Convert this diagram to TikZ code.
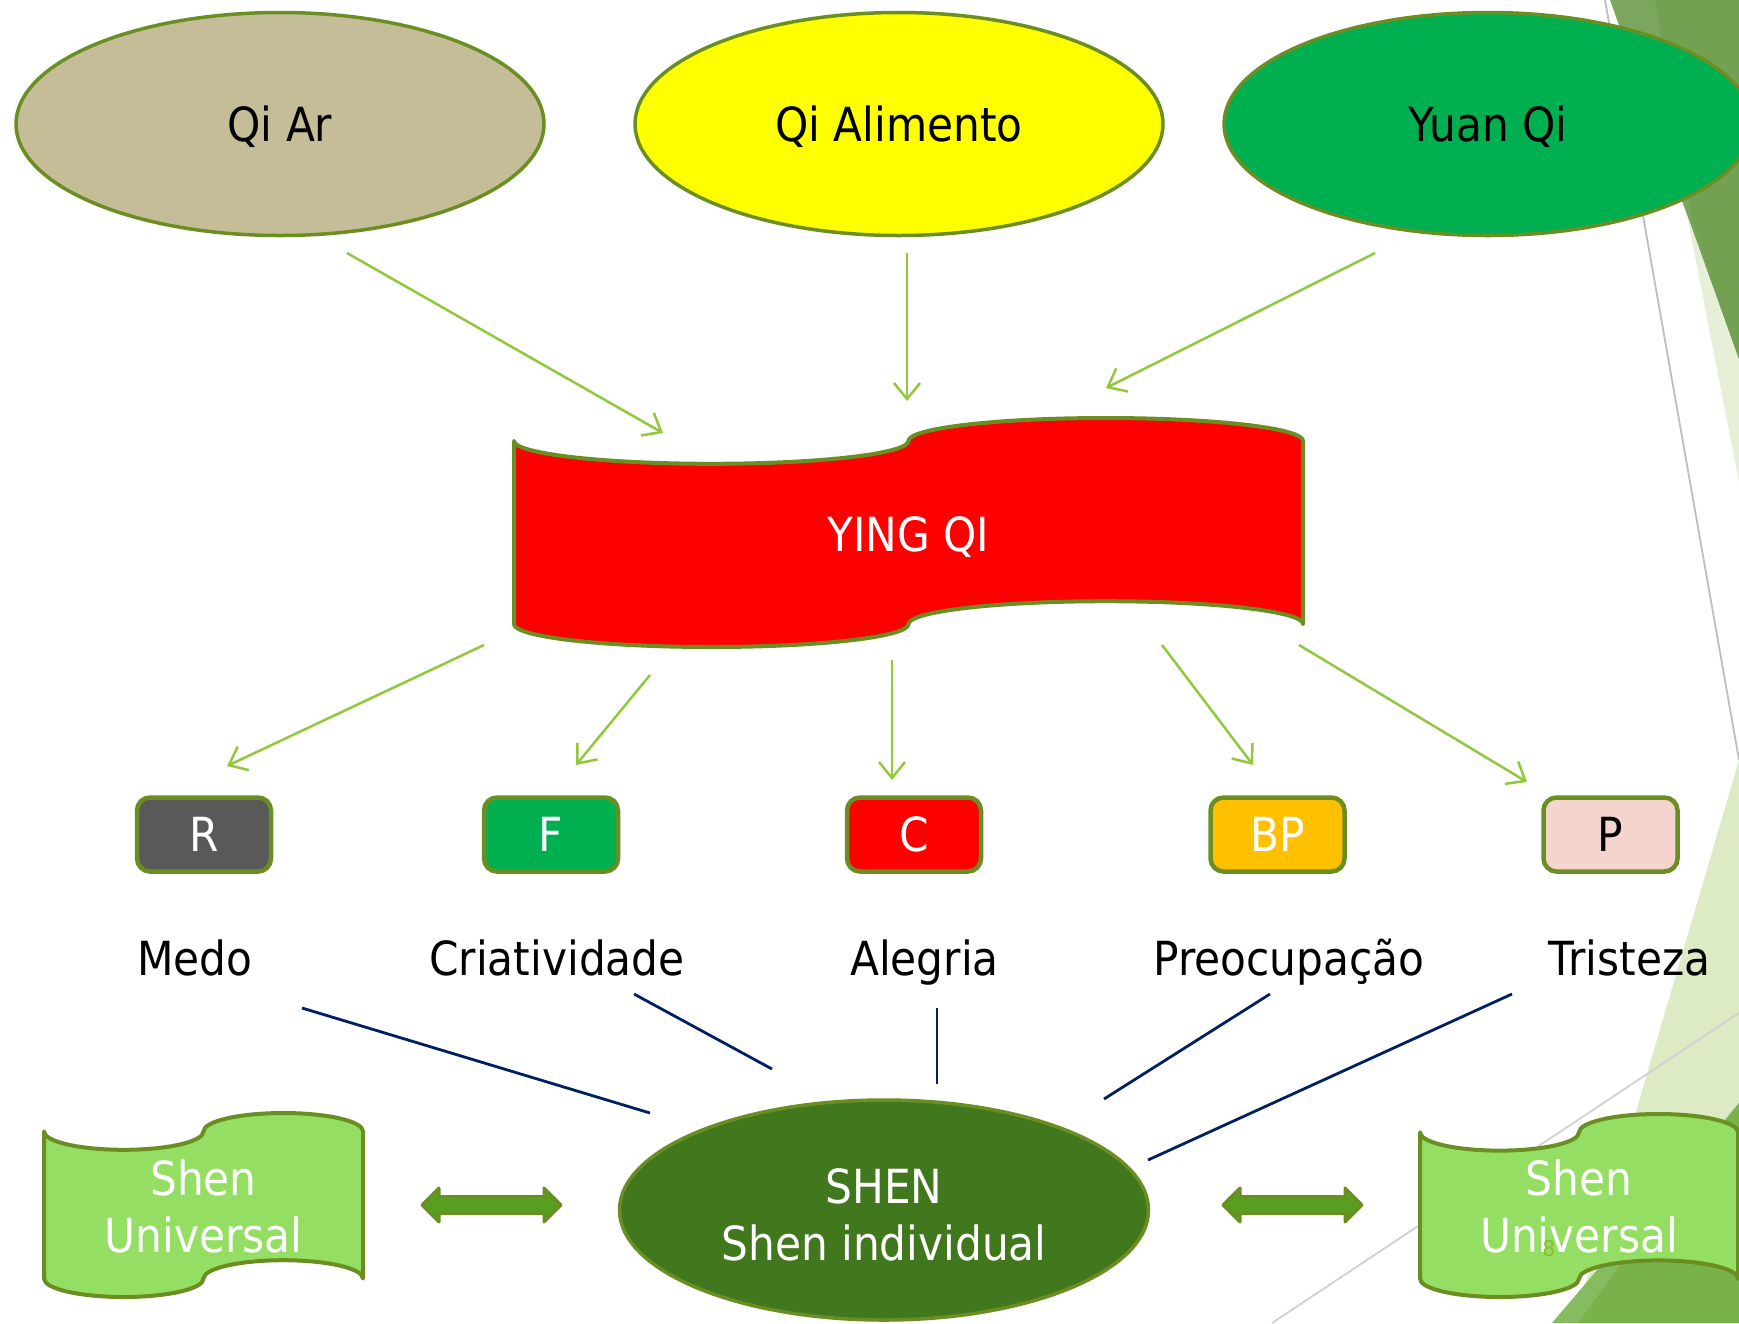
\documentclass[tikz,border=0pt]{standalone}
\usepackage{fontspec}
\setmainfont{DejaVu Sans}[FakeStretch=0.9]
\usetikzlibrary{arrows.meta,shapes.geometric}

% palette
\definecolor{rimgreen}{RGB}{107,142,35}
\definecolor{feedgreen}{RGB}{146,200,60}
\definecolor{navyline}{RGB}{0,32,96}
\definecolor{qiartan}{RGB}{196,189,151}
\definecolor{qiyellow}{RGB}{255,255,0}
\definecolor{yuangreen}{RGB}{0,176,80}
\definecolor{yingred}{RGB}{255,0,0}
\definecolor{shendark}{RGB}{65,120,30}
\definecolor{shenlight}{RGB}{148,222,100}
\definecolor{twowaygreen}{RGB}{88,158,32}
\definecolor{rgray}{RGB}{89,89,89}
\definecolor{fgreen}{RGB}{0,176,80}
\definecolor{cred}{RGB}{255,0,0}
\definecolor{bporange}{RGB}{255,192,0}
\definecolor{ppink}{RGB}{246,212,206}
\definecolor{facetA}{RGB}{124,165,94}
\definecolor{facetB}{RGB}{116,160,82}
\definecolor{facetPale}{RGB}{229,240,214}
\definecolor{facetPaleB}{RGB}{221,235,196}
\definecolor{facetMidA}{RGB}{134,188,96}
\definecolor{facetMidB}{RGB}{121,178,74}
\definecolor{facetGray}{RGB}{190,190,190}
\definecolor{pagenum}{RGB}{140,190,40}

% punched-tape outline: style, left x, top y, width, height
% (top and bottom edges carry the same wave: dip on the left, hump on the right)
\newcommand\tapeshape[5]{%
  \pgfmathsetmacro\tpA{#4/4}%
  \pgfmathsetmacro\tpB{#5/10}%
  \pgfmathsetmacro\tpKA{0.5523*\tpA}%
  \pgfmathsetmacro\tpKB{0.5523*\tpB}%
  \path[#1] (#2,#3+\tpB)
   .. controls (#2,#3+\tpB+\tpKB) and (#2+\tpA-\tpKA,#3+2*\tpB) .. (#2+\tpA,#3+2*\tpB)
   .. controls (#2+\tpA+\tpKA,#3+2*\tpB) and (#2+2*\tpA,#3+\tpB+\tpKB) .. (#2+2*\tpA,#3+\tpB)
   .. controls (#2+2*\tpA,#3+\tpB-\tpKB) and (#2+3*\tpA-\tpKA,#3) .. (#2+3*\tpA,#3)
   .. controls (#2+3*\tpA+\tpKA,#3) and (#2+4*\tpA,#3+\tpB-\tpKB) .. (#2+4*\tpA,#3+\tpB)
   -- (#2+4*\tpA,#3+9*\tpB)
   .. controls (#2+4*\tpA,#3+9*\tpB-\tpKB) and (#2+3*\tpA+\tpKA,#3+8*\tpB) .. (#2+3*\tpA,#3+8*\tpB)
   .. controls (#2+3*\tpA-\tpKA,#3+8*\tpB) and (#2+2*\tpA,#3+9*\tpB-\tpKB) .. (#2+2*\tpA,#3+9*\tpB)
   .. controls (#2+2*\tpA,#3+9*\tpB+\tpKB) and (#2+\tpA+\tpKA,#3+10*\tpB) .. (#2+\tpA,#3+10*\tpB)
   .. controls (#2+\tpA-\tpKA,#3+10*\tpB) and (#2,#3+9*\tpB+\tpKB) .. (#2,#3+9*\tpB)
   -- cycle;}

% block double arrow: left tip x, right tip x, centre y
\newcommand\twowayarrow[3]{%
  \path[twoway] (#1,#3) -- (#1+17,#3-17) -- (#1+17,#3-8.5) -- (#2-17,#3-8.5)
    -- (#2-17,#3-17) -- (#2,#3) -- (#2-17,#3+17) -- (#2-17,#3+8.5)
    -- (#1+17,#3+8.5) -- (#1+17,#3+17) -- cycle;}

\tikzset{
  big/.style={font=\fontsize{47}{57}\selectfont},
  oval/.style={ellipse, draw=rimgreen, line width=3.5pt, minimum width=528pt,
    minimum height=223pt, inner sep=0pt, big, text height=34pt, text depth=0pt},
  organ/.style={rectangle, draw=rimgreen, line width=4.5pt, rounded corners=13pt,
    minimum width=134pt, minimum height=74pt, inner sep=0pt, big,
    text height=34pt, text depth=0pt, text=white},
  caption/.style={big, inner sep=0pt, anchor=base},
  feed/.style={draw=feedgreen, line width=2.5pt,
    -{Straight Barb[length=16pt,width=26pt,line width=2.5pt]}},
  link/.style={draw=navyline, line width=2.8pt},
  tape/.style={draw=rimgreen, line width=4pt, line join=round},
  twoway/.style={fill=twowaygreen, draw=rimgreen, line width=3pt, line join=round},
  facetline/.style={draw=facetGray, line width=1.8pt}
}

\begin{document}
\begin{tikzpicture}[x=1pt,y=-1pt]
\useasboundingbox (0,0) rectangle (1739,1323);
\fill[white] (0,0) rectangle (1739,1323);
\begin{scope}
\clip (0,0) rectangle (1739,1323);

% theme facets on the right edge
\fill[facetA] (1610,0) -- (1739,0) -- (1739,360) -- cycle;
\fill[facetB] (1655,0) -- (1739,0) -- (1739,360) -- (1692,222) -- cycle;
\fill[facetPale] (1687,215) -- (1739,360) -- (1739,482) -- cycle;
\fill[facetPaleB] (1739,760) -- (1574,1323) -- (1739,1323) -- cycle;
\fill[facetMidA] (1739,1103) -- (1552,1323) -- (1739,1323) -- cycle;
\fill[facetMidB] (1739,1103) -- (1578,1323) -- (1739,1323) -- cycle;
\draw[facetline] (1605,0) -- (1739,760);
\draw[facetline, draw=facetGray!70] (1739,1013) -- (1272,1323);

% sources of qi
\node[oval, fill=qiartan] (qiar) at (280,124) {Qi Ar};
\node[oval, fill=qiyellow] (qialim) at (899,124) {Qi Alimento};
\node[oval, fill=yuangreen] (yuanqi) at (1488,124) {Yuan Qi};

% Ying Qi banner
\tapeshape{tape, fill=yingred}{514}{418}{789}{229}
\node[caption, text=white] (yingqi) at (908.5,551) {YING QI};

% organs
\node[organ, fill=rgray] (orgR) at (204,834.5) {R};
\node[organ, fill=fgreen] (orgF) at (551,834.5) {F};
\node[organ, fill=cred] (orgC) at (914,834.5) {C};
\node[organ, fill=bporange] (orgBP) at (1277.5,834.5) {BP};
\node[organ, fill=ppink, text=black] (orgP) at (1610.5,834.5) {P};

% emotions
\node[caption] (medo) at (195,975) {Medo};
\node[caption] (criat) at (557,975) {Criatividade};
\node[caption] (alegria) at (924.5,975) {Alegria};
\node[caption] (preoc) at (1289,975) {Preocupação};
\node[caption] (trist) at (1629.5,975) {Tristeza};

% Shen
\node[ellipse, draw=rimgreen, line width=3.5pt, fill=shendark,
  minimum width=529pt, minimum height=220pt, inner sep=0pt] (shen) at (884,1210) {};
\node[caption, text=white] (shentitle) at (884,1203) {SHEN};
\node[caption, text=white] (shenind) at (884,1260) {Shen individual};

\tapeshape{tape, fill=shenlight}{44}{1113}{319}{184}
\node[caption, text=white] (univL1) at (203.5,1195) {Shen};
\node[caption, text=white] (univL2) at (203.5,1252) {Universal};

\tapeshape{tape, fill=shenlight}{1420}{1114}{318}{183}
\node[caption, text=white] (univR1) at (1579,1195) {Shen};
\node[caption, text=white] (univR2) at (1579,1252) {Universal};

\twowayarrow{422}{561}{1205}
\twowayarrow{1223}{1362}{1205}

\node[font=\fontsize{22}{24}\selectfont, text=pagenum, inner sep=0pt] (slideno) at (1549,1248) {8};

% connector ends
\coordinate (qiar-out) at (347,253);
\coordinate (qialim-out) at (907,253);
\coordinate (yuanqi-out) at (1375,253);
\coordinate (ying-in1) at (663,433);
\coordinate (ying-in2) at (907,401);
\coordinate (ying-in3) at (1106,388);
\coordinate (ying-outR) at (484,645);
\coordinate (ying-outF) at (650,675);
\coordinate (ying-outC) at (892,660);
\coordinate (ying-outBP) at (1162,645);
\coordinate (ying-outP) at (1299,645);
\coordinate (orgR-in) at (227,766);
\coordinate (orgF-in) at (576,765);
\coordinate (orgC-in) at (892,780);
\coordinate (orgBP-in) at (1253,765);
\coordinate (orgP-in) at (1527,782);

\coordinate (medo-end) at (302,1008);
\coordinate (criat-end) at (634,994);
\coordinate (alegria-end) at (937,1008);
\coordinate (preoc-end) at (1270,994);
\coordinate (trist-end) at (1512,994);
\coordinate (shen-a) at (650,1113);
\coordinate (shen-b) at (772,1069);
\coordinate (shen-c) at (937,1084);
\coordinate (shen-d) at (1104,1099);
\coordinate (shen-e) at (1148,1160);

% qi flowing into Ying Qi
\draw[feed] (qiar-out) -- (ying-in1);
\draw[feed] (qialim-out) -- (ying-in2);
\draw[feed] (yuanqi-out) -- (ying-in3);

% Ying Qi feeding the organs
\draw[feed] (ying-outR) -- (orgR-in);
\draw[feed] (ying-outF) -- (orgF-in);
\draw[feed] (ying-outC) -- (orgC-in);
\draw[feed] (ying-outBP) -- (orgBP-in);
\draw[feed] (ying-outP) -- (orgP-in);

% emotions linked to Shen
\draw[link] (medo-end) -- (shen-a);
\draw[link] (criat-end) -- (shen-b);
\draw[link] (alegria-end) -- (shen-c);
\draw[link] (preoc-end) -- (shen-d);
\draw[link] (trist-end) -- (shen-e);
\end{scope}
\end{tikzpicture}
\end{document}
